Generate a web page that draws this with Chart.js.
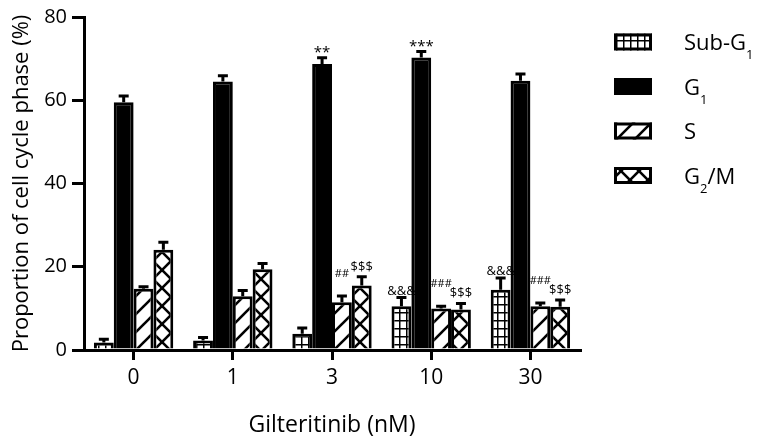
<!DOCTYPE html>
<html>
<head>
<meta charset="utf-8">
<script src="https://cdn.jsdelivr.net/npm/chart.js@4.4.0/dist/chart.umd.min.js"></script>
<style>
  html,body{margin:0;padding:0;background:#fff;}
  #wrap{width:760px;height:445px;}
</style>
</head>
<body>
<div id="wrap"><canvas id="cycleChart" width="760" height="445"></canvas></div>
<script>
// ================= DATA =================
const doses = ["0", "1", "3", "10", "30"];
const phaseNames = ["Sub-G₁", "G₁", "S", "G₂/M"];
const yTicks = [0, 20, 40, 60, 80];

const subG1    = [1.8, 2.3, 3.9, 10.5, 14.5];
const subG1Err = [0.8, 0.7, 1.4, 2.1, 2.8];
const g1       = [59.5, 64.5, 68.7, 70.3, 64.7];
const g1Err    = [1.5, 1.4, 1.5, 1.4, 1.6];
const sPhase   = [14.7, 12.9, 11.5, 10.0, 10.5];
const sErr     = [0.5, 1.4, 1.5, 0.5, 0.8];
const g2m      = [24.1, 19.4, 15.5, 9.7, 10.4];
const g2mErr   = [1.8, 1.4, 2.1, 1.5, 1.6];

const subG1Sig = ["", "", "", "&&&", "&&&"];
const g1Sig    = ["", "", "**", "***", ""];
const sSig     = ["", "", "##", "###", "###"];
const g2mSig   = ["", "", "$$$", "$$$", "$$$"];

Chart.defaults.font.family = "'Open Sans', 'DejaVu Sans', sans-serif";
Chart.defaults.color = "#000";

// ================= PATTERNS =================
function makePattern(kind){
  const c = document.createElement("canvas");
  const ctx = c.getContext("2d");
  if(kind === "grid"){
    c.width = 7; c.height = 8;
    ctx.fillStyle = "#fff"; ctx.fillRect(0, 0, 7, 8);
    ctx.fillStyle = "#000";
    ctx.fillRect(0, 0, 1.5, 8);
    ctx.fillRect(0, 0, 7, 1.5);
  }else{
    const s = 18;
    c.width = s; c.height = s;
    ctx.fillStyle = "#fff"; ctx.fillRect(0, 0, s, s);
    ctx.strokeStyle = "#000"; ctx.lineWidth = 2.6;
    let lines = [[0, s, s, 0], [-3, 3, 3, -3], [s-3, s+3, s+3, s-3]];
    if(kind === "cross"){
      lines = lines.concat([[0, 0, s, s], [-3, s-3, 3, s+3], [s-3, -3, s+3, 3]]);
    }
    lines.forEach(([a,b,c2,d])=>{
      ctx.beginPath(); ctx.moveTo(a,b); ctx.lineTo(c2,d); ctx.stroke();
    });
  }
  const main = document.getElementById("cycleChart").getContext("2d");
  return main.createPattern(c, "repeat");
}

// ================= PLUGINS =================
// mark glyph -> [font size, lift above error cap]
const markStyle = {"*": [15, 1], "&": [13, 3], "$": [13, 6], "#": [11, 19]};

const errorBars = {
  id: "errorBars",
  afterDatasetsDraw(chart){
    const {ctx, scales:{y}} = chart;
    ctx.save();
    ctx.strokeStyle = "#000";
    ctx.fillStyle = "#000";
    ctx.lineWidth = 3;
    ctx.textAlign = "center";
    ctx.textBaseline = "alphabetic";
    chart.data.datasets.forEach((ds, i)=>{
      const meta = chart.getDatasetMeta(i);
      meta.data.forEach((bar, j)=>{
        const top = y.getPixelForValue(ds.data[j] + ds.errors[j]);
        ctx.beginPath();
        ctx.moveTo(bar.x, bar.y);
        ctx.lineTo(bar.x, top);
        ctx.moveTo(bar.x - 5, top);
        ctx.lineTo(bar.x + 5, top);
        ctx.stroke();
        const mark = ds.marks[j];
        if(mark){
          const [size, lift] = markStyle[mark[0]];
          ctx.font = size + "px 'Open Sans', sans-serif";
          ctx.fillText(mark, bar.x, top - lift);
        }
      });
    });
    ctx.restore();
  }
};

function drawLabel(ctx, text, x, baseY){
  const subMap = {"₁":"1", "₂":"2"};
  for(const ch of text){
    if(subMap[ch]){
      ctx.font = "13px 'Open Sans', sans-serif";
      ctx.fillText(subMap[ch], x, baseY + 9);
      x += ctx.measureText(subMap[ch]).width;
    }else{
      ctx.font = "22px 'Open Sans', sans-serif";
      ctx.fillText(ch, x, baseY);
      x += ctx.measureText(ch).width;
    }
  }
}

const sideLegend = {
  id: "sideLegend",
  afterDraw(chart){
    const ctx = chart.ctx;
    ctx.save();
    ctx.textAlign = "left";
    ctx.textBaseline = "alphabetic";
    chart.data.datasets.forEach((ds, i)=>{
      const cy = 42 + i * 44.5;
      ctx.fillStyle = ds.backgroundColor;
      ctx.fillRect(614, cy - 8.5, 38, 17);
      ctx.strokeStyle = "#000";
      ctx.lineWidth = 3;
      ctx.strokeRect(615.5, cy - 7, 35, 14);
      ctx.fillStyle = "#000";
      drawLabel(ctx, ds.label, 684, cy + 8);
    });
    ctx.restore();
  }
};

// ================= CHART =================
const fills = [makePattern("grid"), "#000", makePattern("diag"), makePattern("cross")];
const values = [subG1, g1, sPhase, g2m];
const errs = [subG1Err, g1Err, sErr, g2mErr];
const sigs = [subG1Sig, g1Sig, sSig, g2mSig];

new Chart(document.getElementById("cycleChart"), {
  type: "bar",
  data: {
    labels: doses,
    datasets: phaseNames.map((name, i)=>({
      label: name,
      data: values[i],
      errors: errs[i],
      marks: sigs[i],
      backgroundColor: fills[i],
      borderColor: "#000",
      borderWidth: 3,
      borderSkipped: "bottom",
      categoryPercentage: 0.8,
      barPercentage: 1.0
    }))
  },
  options: {
    responsive: false,
    animation: false,
    devicePixelRatio: 1,
    layout: {padding: {top: 16, right: 180, left: 0, bottom: 0}},
    plugins: {legend: {display: false}, tooltip: {enabled: false}},
    scales: {
      x: {
        grid: {display: true, drawOnChartArea: false, drawTicks: true, tickLength: 10,
               color: "#000", lineWidth: 3, offset: false},
        border: {display: true, color: "#000", width: 3},
        ticks: {font: {size: 21}, padding: 5, maxRotation: 0},
        title: {display: true, text: "Gilteritinib (nM)", font: {size: 23}, padding: {top: 6, bottom: 6}},
        afterFit(scale){ scale.height = 95; }
      },
      y: {
        min: 0, max: 80,
        grid: {display: true, drawOnChartArea: false, drawTicks: true, tickLength: 12,
               color: "#000", lineWidth: 3},
        border: {display: true, color: "#000", width: 3},
        ticks: {font: {size: 20}, padding: 5},
        afterBuildTicks(scale){ scale.ticks = yTicks.map(v=>({value: v})); },
        title: {display: true, text: "Proportion of cell cycle phase (%)", font: {size: 22}, padding: {top: 9, bottom: 4}},
        afterFit(scale){ scale.width = 84; }
      }
    }
  },
  plugins: [errorBars, sideLegend]
});
</script>
</body>
</html>
